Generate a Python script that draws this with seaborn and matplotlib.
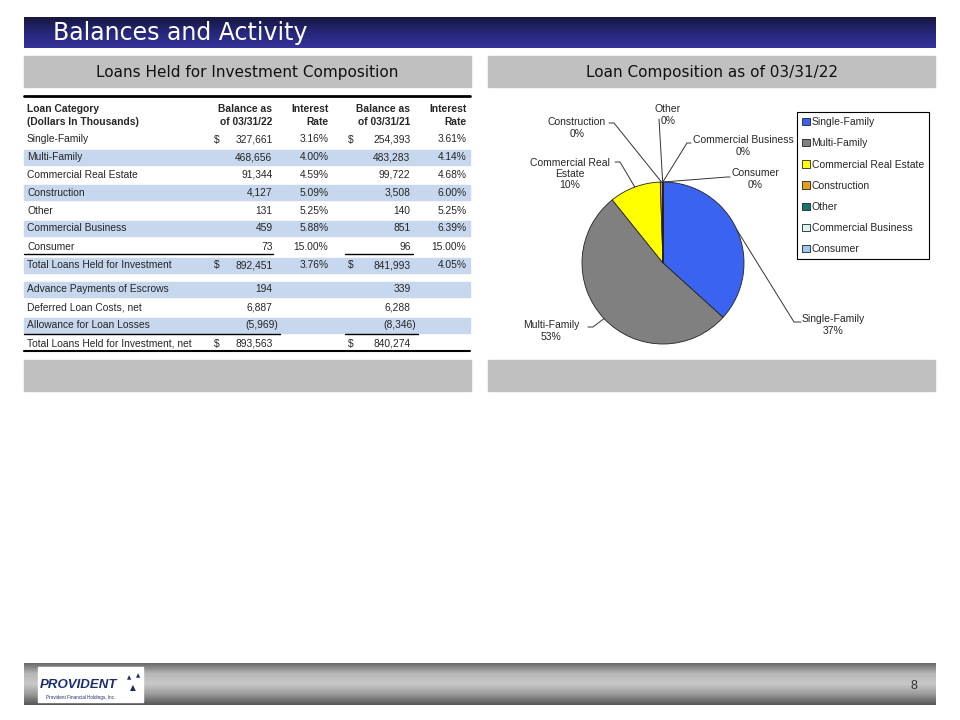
## Balances and Activity slide: loan table + loan composition pie (03/31/22)
import numpy as np
import pandas as pd
import seaborn as sns
import matplotlib.pyplot as plt
from matplotlib.patches import Rectangle
from matplotlib.colors import LinearSegmentedColormap

# ---- data ----
categories = ["Single-Family", "Multi-Family", "Commercial Real Estate", "Construction",
              "Other", "Commercial Business", "Consumer"]
bal_2022 = [327661, 468656, 91344, 4127, 131, 459, 73]
rate_2022 = [3.16, 4.00, 4.59, 5.09, 5.25, 5.88, 15.00]
bal_2021 = [254393, 483283, 99722, 3508, 140, 851, 96]
rate_2021 = [3.61, 4.14, 4.68, 6.00, 5.25, 6.39, 15.00]
total_rate_2022 = 3.76
total_rate_2021 = 4.05

adjust_items = ["Advance Payments of Escrows", "Deferred Loan Costs, net", "Allowance for Loan Losses"]
adjust_2022 = [194, 6887, -5969]
adjust_2021 = [339, 6288, -8346]

pie_labels = ["Single-Family", "Multi-Family", "Commercial Real\nEstate", "Construction",
              "Other", "Commercial Business", "Consumer"]
pie_colors = sns.color_palette(["#3A64F0", "#808080", "#FFFF00", "#E0A020",
                                "#16766C", "#D8F4F0", "#9CC8F4"])

# build the table rows
tbl = pd.DataFrame({"label": categories, "b22": bal_2022, "r22": rate_2022,
                    "b21": bal_2021, "r21": rate_2021})
tbl["dollar"] = tbl["label"] == "Single-Family"
tbl.loc[len(tbl)] = ["Total Loans Held for Investment", sum(bal_2022), total_rate_2022,
                     sum(bal_2021), total_rate_2021, True]
for name, a, b in zip(adjust_items, adjust_2022, adjust_2021):
    tbl.loc[len(tbl)] = [name, a, np.nan, b, np.nan, False]
tbl.loc[len(tbl)] = ["Total Loans Held for Investment, net", sum(bal_2022) + sum(adjust_2022), np.nan,
                     sum(bal_2021) + sum(adjust_2021), np.nan, True]
row_y = [139.5, 157, 174.5, 192.5, 210.5, 228, 246.5, 265, 289.5, 307.5, 325.5, 344]
shaded = {1, 3, 5, 7, 8, 10}

sns.set_theme(style="white")
plt.rcParams['font.family'] = ['Liberation Sans', 'DejaVu Sans']

fig = plt.figure(figsize=(9.6, 7.2), dpi=100)
bg = fig.add_axes([0, 0, 1, 1])
bg.axis('off')

# title bar
title_cmap = LinearSegmentedColormap.from_list('title', ['#17173f', '#26267a', '#35359c'])
bg.imshow(np.linspace(0, 1, 64).reshape(-1, 1), cmap=title_cmap, extent=(24, 936, 48, 17), aspect='auto')
bg.text(53, 33, "Balances and Activity", color='white', fontsize=17, va='center', ha='left',
        family=['DejaVu Sans'])

# footer bar
foot_cmap = LinearSegmentedColormap.from_list('foot', ['#6a6a6a', '#b8b8b8', '#c8c8c8', '#9a9a9a', '#555555'])
bg.imshow(np.linspace(0, 1, 64).reshape(-1, 1), cmap=foot_cmap, extent=(24, 936, 705, 663), aspect='auto')
bg.add_patch(Rectangle((38, 667), 105, 35, color='white'))
bg.text(40, 685, "PROVIDENT", color='#1c2d6e', fontsize=9.5, fontweight='bold', fontstyle='italic',
        ha='left', va='center')
bg.text(81, 697.5, "Provident Financial Holdings, Inc.", color='#1c2d6e', fontsize=3.3, ha='center', va='center')
for tx, ty, ts in [(129, 678, 4), (138, 676, 4), (133, 688, 5.5)]:
    bg.text(tx, ty, "\u25B2", color='#1c2d6e', fontsize=ts, ha='center', va='center', family=['DejaVu Sans'])
bg.text(914, 686, "8", color='#333333', fontsize=9, ha='center', va='center')

# section header boxes
for x0 in (24, 488):
    bg.add_patch(Rectangle((x0, 56), 447, 31, color='#C0C0C0'))
    bg.add_patch(Rectangle((x0, 360), 447, 31, color='#C0C0C0'))
head_font = ['Liberation Sans Narrow', 'DejaVu Sans']
bg.text(247.5, 72, "Loans Held for Investment Composition", fontsize=11, ha='center', va='center',
        family=head_font, color='#111111')
bg.text(712, 72, "Loan Composition as of 03/31/22", fontsize=11, ha='center', va='center',
        family=head_font, color='#111111')

# ---- table ----
fs = 7.4
col_dollar22, col_b22, col_r22, col_dollar21, col_b21, col_r21 = 216.7, 272.5, 328.5, 351, 410.5, 466.5
bg.plot([24, 470], [96, 96], color='black', lw=2)
bg.text(27, 109, "Loan Category", fontsize=fs, fontweight='bold', va='center')
bg.text(27, 122, "(Dollars In Thousands)", fontsize=fs, fontweight='bold', va='center')
for x, top, bot in [(col_b22, "Balance as", "of 03/31/22"), (col_r22, "Interest", "Rate"),
                    (col_b21, "Balance as", "of 03/31/21"), (col_r21, "Interest", "Rate")]:
    bg.text(x, 109, top, fontsize=fs, fontweight='bold', ha='right', va='center')
    bg.text(x, 122, bot, fontsize=fs, fontweight='bold', ha='right', va='center')


def fmt(v):
    v = int(v)
    return f"{v:,}" if v >= 0 else f"({-v:,})"


for i, row in tbl.iterrows():
    y = row_y[i]
    if i in shaded:
        bg.add_patch(Rectangle((24, y - 7.5), 446, 15, color='#C6D7EE', zorder=0))
    bg.text(27, y, row["label"], fontsize=fs, va='center')
    for x, v in [(col_b22, row["b22"]), (col_b21, row["b21"])]:
        bg.text(x + (5.5 if v < 0 else 0), y, fmt(v), fontsize=fs, ha='right', va='center')
    for x, r in [(col_r22, row["r22"]), (col_r21, row["r21"])]:
        if not np.isnan(r):
            bg.text(x, y, f"{r:.2f}%", fontsize=fs, ha='right', va='center')
    if row["dollar"]:
        bg.text(col_dollar22, y, "$", fontsize=fs, ha='center', va='center')
        bg.text(col_dollar21, y, "$", fontsize=fs, ha='center', va='center')

# underlines
bg.plot([24, 273], [254, 254], color='black', lw=1)
bg.plot([345, 413], [254, 254], color='black', lw=1)
bg.plot([24, 280], [333.5, 333.5], color='black', lw=1)
bg.plot([345, 418], [333.5, 333.5], color='black', lw=1)
bg.plot([24, 470], [351, 351], color='black', lw=1.5)

bg.set_xlim(0, 960)
bg.set_ylim(720, 0)

# ---- pie ----
cx, cy, rad = 663, 263, 81
pax = fig.add_axes([(cx - 2 * rad) / 960, 1 - (cy + 2 * rad) / 720, 4 * rad / 960, 4 * rad / 720])
wedges, _ = pax.pie(bal_2022, colors=pie_colors, startangle=90, counterclock=False,
                    wedgeprops=dict(edgecolor='#222222', linewidth=0.6))
pax.set_xlim(-2, 2)
pax.set_ylim(-2, 2)
pax.axis('off')


def to_pie(x, y):
    return (x - cx) / rad, (cy - y) / rad


label_pos = [(833, 325), (551, 331), (570, 174), (577, 128), (668, 115), (743, 146), (755, 179)]
leader_ends = [[(801, 322), (794, 322)], [(588, 327), (593, 327)], [(615, 162), (620, 162)],
               [(609, 123), (614, 123)], [(659, 119)], [(691, 143), (687, 143)],
               [(730, 177), (727, 177)]]
total = sum(bal_2022)
for w, lab, v, pos, ends in zip(wedges, pie_labels, bal_2022, label_pos, leader_ends):
    mid = np.deg2rad((w.theta1 + w.theta2) / 2)
    pts = [to_pie(*p) for p in ends] + [(np.cos(mid), np.sin(mid))]
    xs, ys = zip(*pts)
    pax.plot(xs, ys, color='#333333', lw=0.7, clip_on=False)
    tx, ty = to_pie(*pos)
    pax.text(tx, ty, f"{lab}\n{round(v / total * 100):.0f}%", fontsize=7.5, ha='center', va='center',
             multialignment='center', linespacing=1.15)

leg = pax.legend(wedges, categories, loc='upper left', bbox_to_anchor=(797 / 960, 1 - 112 / 720),
                 bbox_transform=fig.transFigure, fontsize=7.5, frameon=True, fancybox=False,
                 edgecolor='black', framealpha=1, handlelength=0.7, handleheight=0.7,
                 handletextpad=0.2, labelspacing=1.07, borderpad=0.5, borderaxespad=0)
leg.get_frame().set_linewidth(0.8)

fig.savefig('out.png', dpi=100)
